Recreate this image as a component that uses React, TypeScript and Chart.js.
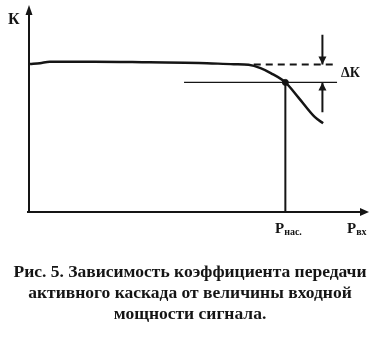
import React, { useEffect, useRef } from "react";
import { Chart, registerables } from "chart.js";

Chart.register(...registerables);

// Transfer characteristic K(P_вх): input power (x, 0..100) vs gain (y, 0..100)
const inputPower = [0.3, 3.2, 6.1, 19.3, 35.4, 50.0, 60.2, 64.6, 68.1, 71.1, 75.4, 79.2, 84.1, 86.5];
const gain = [71.5, 71.9, 72.6, 72.6, 72.3, 72.0, 71.4, 71.1, 69.5, 67.1, 62.6, 55.4, 45.8, 42.9];

// Saturation point and reference levels
const pSat = 75.4;
const kSat = 62.6;
const kMax = 71.2;
const satLevelRange = [45.6, 90.6];
const maxLevelRange = [66.1, 90.6];
const deltaMarkerP = 86.3;
const deltaMarkerRange = [48.2, 85.6];

// Text
const yAxisLabel = "К";
const xAxisLabel = ["Р", "вх"];
const satLabel = ["Р", "нас."];
const deltaLabel = "ΔК";
const captionLines = [
  "Рис. 5. Зависимость коэффициента передачи",
  "активного каскада от величины входной",
  "мощности сигнала.",
];

const INK = "#151515";
const SERIF = "'Liberation Serif', 'Times New Roman', serif";

const diagramPlugin = {
  id: "diagramDecor",
  afterDatasetsDraw(chart: any) {
    const { ctx } = chart;
    const xs = chart.scales.x;
    const ys = chart.scales.y;
    const px = (v: number) => xs.getPixelForValue(v);
    const py = (v: number) => ys.getPixelForValue(v);

    ctx.save();
    ctx.strokeStyle = INK;
    ctx.fillStyle = INK;
    ctx.lineCap = "butt";

    const x0 = px(0);
    const y0 = py(0);
    const yTop = py(100);
    const xEnd = px(100);

    // axes
    ctx.lineWidth = 2;
    ctx.beginPath();
    ctx.moveTo(x0, y0 + 1);
    ctx.lineTo(x0, yTop + 6);
    ctx.moveTo(x0 - 2, y0);
    ctx.lineTo(xEnd - 6, y0);
    ctx.stroke();

    const tri = (a: number[], b: number[], c: number[]) => {
      ctx.beginPath();
      ctx.moveTo(a[0], a[1]);
      ctx.lineTo(b[0], b[1]);
      ctx.lineTo(c[0], c[1]);
      ctx.closePath();
      ctx.fill();
    };
    // axis arrowheads
    tri([x0, yTop], [x0 - 3.5, yTop + 10], [x0 + 3.5, yTop + 10]);
    tri([xEnd, y0], [xEnd - 9, y0 - 4], [xEnd - 9, y0 + 4]);

    // ΔK marker arrowheads
    const mx = px(deltaMarkerP);
    const yMax = py(kMax);
    const ySat = py(kSat);
    tri([mx, yMax], [mx - 4, yMax - 8], [mx + 4, yMax - 8]);
    tri([mx, ySat], [mx - 4, ySat + 8], [mx + 4, ySat + 8]);

    // labels
    ctx.textBaseline = "alphabetic";
    ctx.textAlign = "left";
    ctx.font = `bold 16px ${SERIF}`;
    ctx.fillText(yAxisLabel, 8, 24);

    ctx.font = `bold 14px ${SERIF}`;
    ctx.fillText(deltaLabel, 341, 77);

    const subLabel = (main: string, sub: string, x: number, y: number) => {
      ctx.font = `bold 15px ${SERIF}`;
      ctx.fillText(main, x, y);
      const w = ctx.measureText(main).width;
      ctx.font = `bold 10px ${SERIF}`;
      ctx.fillText(sub, x + w, y + 2);
    };
    subLabel(satLabel[0], satLabel[1], 275, 233);
    subLabel(xAxisLabel[0], xAxisLabel[1], 347, 233);

    // caption
    ctx.textAlign = "center";
    ctx.font = `bold 17.5px ${SERIF}`;
    const capY = [277, 298, 319];
    captionLines.forEach((line, i) => ctx.fillText(line, 190, capY[i]));

    ctx.restore();
  },
};

export default function App() {
  const canvasRef = useRef<HTMLCanvasElement>(null);

  useEffect(() => {
    const canvas = canvasRef.current;
    if (!canvas) return;

    const line = (points: { x: number; y: number }[], extra: any = {}) => ({
      type: "line",
      data: points,
      borderColor: INK,
      backgroundColor: INK,
      pointRadius: 0,
      fill: false,
      clip: false,
      ...extra,
    });

    const chart = new Chart(canvas, {
      type: "line",
      data: {
        datasets: [
          line(
            inputPower.map((p, i) => ({ x: p, y: gain[i] })),
            { borderWidth: 2.5, cubicInterpolationMode: "monotone" }
          ),
          line(
            [
              { x: maxLevelRange[0], y: kMax },
              { x: maxLevelRange[1], y: kMax },
            ],
            { borderWidth: 2, borderDash: [7, 5] }
          ),
          line(
            [
              { x: satLevelRange[0], y: kSat },
              { x: satLevelRange[1], y: kSat },
            ],
            { borderWidth: 1.2 }
          ),
          line(
            [
              { x: pSat, y: kSat },
              { x: pSat, y: 0 },
            ],
            { borderWidth: 2 }
          ),
          line(
            [
              { x: deltaMarkerP, y: deltaMarkerRange[1] },
              { x: deltaMarkerP, y: kMax },
            ],
            { borderWidth: 2 }
          ),
          line(
            [
              { x: deltaMarkerP, y: kSat },
              { x: deltaMarkerP, y: deltaMarkerRange[0] },
            ],
            { borderWidth: 2 }
          ),
          line([{ x: pSat, y: kSat }], { pointRadius: 3, showLine: false }),
        ] as any,
      },
      options: {
        animation: false,
        responsive: false,
        events: [],
        layout: { padding: { left: 29, right: 3, top: 4, bottom: 137 } },
        plugins: {
          legend: { display: false },
          tooltip: { enabled: false },
          title: { display: false },
        },
        scales: {
          x: { type: "linear", min: 0, max: 100, display: false },
          y: { type: "linear", min: 0, max: 100, display: false },
        },
      },
      plugins: [diagramPlugin],
    } as any);

    return () => chart.destroy();
  }, []);

  return (
    <canvas
      ref={canvasRef}
      width={374}
      height={349}
      style={{ position: "absolute", left: 0, top: 0, display: "block", background: "#fff" }}
    />
  );
}
